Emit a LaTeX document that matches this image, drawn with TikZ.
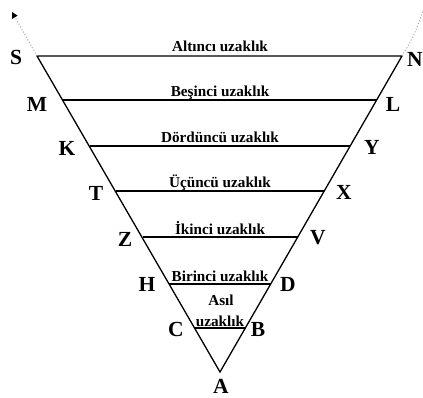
\documentclass[tikz,border=0pt]{standalone}
\usepackage{fontspec}
\setmainfont{Liberation Serif}
\usetikzlibrary{arrows.meta}
\begin{document}
\begin{tikzpicture}[x=1pt,y=-1pt,
  pt/.style={font=\bfseries\fontsize{21.5}{22}\selectfont, inner sep=0pt},
  lab/.style={font=\bfseries\fontsize{15.2}{16}\selectfont, inner sep=0pt, anchor=base},
  edge/.style={line width=1.3pt},
  dots/.style={gray!70, dotted, line width=1pt}]
\useasboundingbox (0,0) rectangle (423,398);
% corner points
\coordinate (pA) at (220,372);
\coordinate (pS) at (37,56);   \coordinate (pN) at (402,56);
\coordinate (pM) at (63,100);  \coordinate (pL) at (377,100);
\coordinate (pK) at (90,146);  \coordinate (pY) at (350,146);
\coordinate (pT) at (116,191); \coordinate (pX) at (324,191);
\coordinate (pZ) at (143,237); \coordinate (pV) at (298,237);
\coordinate (pH) at (169,284); \coordinate (pD) at (271,284);
\coordinate (pC) at (194,328); \coordinate (pB) at (246,328);
\coordinate (eS) at (12,12);
\coordinate (eN) at (424,8);
% triangle
\draw[edge] (pS) -- (pN) -- (pA) -- cycle;
\draw[edge] (pM) -- (pL);
\draw[edge] (pK) -- (pY);
\draw[edge] (pT) -- (pX);
\draw[edge] (pZ) -- (pV);
\draw[edge] (pH) -- (pD);
\draw[edge] (pC) -- (pB);
% dotted continuations
\draw[dots, -{Triangle[length=6pt,width=6pt,fill=black,color=black]}] (pS) -- (eS);
\draw[dots] (pN) .. controls (414,36) .. (eN);
% point letters
\node[pt] (S) at (16,57) {S};
\node[pt] (N) at (415,59) {N};
\node[pt] (M) at (37,104) {M};
\node[pt] (L) at (393,104) {L};
\node[pt] (K) at (67,148) {K};
\node[pt] (Y) at (372,147) {Y};
\node[pt] (T) at (96,193) {T};
\node[pt] (X) at (344,192) {X};
\node[pt] (Z) at (125,239) {Z};
\node[pt] (V) at (318,238) {V};
\node[pt] (H) at (147,284) {H};
\node[pt] (D) at (288,284) {D};
\node[pt] (C) at (176,329) {C};
\node[pt] (B) at (258,329) {B};
\node[pt] (A) at (221,386) {A};
% distance labels
\node[lab] (l6) at (220,52) {Altıncı uzaklık};
\node[lab] (l5) at (220,97) {Beşinci uzaklık};
\node[lab] (l4) at (220,143) {Dördüncü uzaklık};
\node[lab] (l3) at (220,188) {Üçüncü uzaklık};
\node[lab] (l2) at (220,234) {İkinci uzaklık};
\node[lab] (l1) at (220,281) {Birinci uzaklık};
\node[lab] (l0a) at (221,305) {Asıl};
\node[lab] (l0b) at (220,326) {uzaklık};
\end{tikzpicture}
\end{document}
